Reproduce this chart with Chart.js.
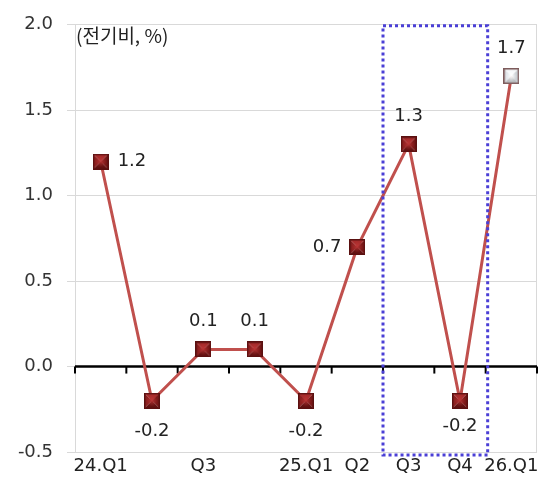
<!DOCTYPE html>
<html>
<head>
<meta charset="utf-8">
<script src="https://cdn.jsdelivr.net/npm/chart.js@4.4.0/dist/chart.umd.min.js"></script>
<style>
  html, body { margin: 0; padding: 0; background: #fff; }
  #wrap { width: 548px; height: 488px; }
</style>
</head>
<body>
<div id="wrap"><canvas id="grafico"></canvas></div>
<script>
// 데이터
const categorias = ['24.Q1', '', 'Q3', '', '25.Q1', 'Q2', 'Q3', 'Q4', '26.Q1'];
const valores = [1.2, -0.2, 0.1, 0.1, -0.2, 0.7, 1.3, -0.2, 1.7];
const unidade = '(전기비, %)';
const destaque = [6, 7]; // 점선 박스 구간 (25.Q3 ~ 25.Q4)

// 라벨 위치 (스타일)
const posLabel = ['right', 'below', 'above', 'above', 'below', 'left', 'above', 'below', 'above'];

const FONTE = '"DejaVu Sans", "Noto Sans CJK KR", sans-serif';

// 사각 마커 (입체 효과)
function marcador(claro) {
  const s = 16;
  const c = document.createElement('canvas');
  c.width = s; c.height = s;
  const g = c.getContext('2d');
  const m = s / 2;
  const faces = claro
    ? ['#f6f8fa', '#dfe3e8', '#c9cdd2', '#b8babd']
    : ['#a82c2c', '#8e2020', '#7a1818', '#651212'];
  const tri = (pts, cor) => {
    g.beginPath();
    g.moveTo(pts[0][0], pts[0][1]);
    g.lineTo(pts[1][0], pts[1][1]);
    g.lineTo(m, m);
    g.closePath();
    g.fillStyle = cor;
    g.fill();
  };
  tri([[0, 0], [s, 0]], faces[0]);
  tri([[0, 0], [0, s]], faces[1]);
  tri([[s, 0], [s, s]], faces[2]);
  tri([[0, s], [s, s]], faces[3]);
  const rg = g.createRadialGradient(m, m, 0, m, m, m * 0.7);
  rg.addColorStop(0, claro ? 'rgba(255,255,255,0.95)' : 'rgba(200,60,60,0.7)');
  rg.addColorStop(1, claro ? 'rgba(255,255,255,0)' : 'rgba(200,60,60,0)');
  g.fillStyle = rg;
  g.fillRect(0, 0, s, s);
  g.strokeStyle = claro ? '#7d5b5b' : '#5a1010';
  g.lineWidth = 1.5;
  g.strokeRect(0.75, 0.75, s - 1.5, s - 1.5);
  return c;
}
const mEscuro = marcador(false);
const mClaro = marcador(true);
const estilos = valores.map((v, i) => i === valores.length - 1 ? mClaro : mEscuro);

// 플러그인: 0선, 눈금, 점선 박스, 단위, 데이터 라벨
const extras = {
  id: 'extras',
  beforeDatasetsDraw(chart) {
    const { ctx, chartArea, scales } = chart;
    const x = scales.x, y = scales.y;
    const y0 = y.getPixelForValue(0);
    const passo = x.getPixelForValue(1) - x.getPixelForValue(0);
    ctx.save();
    // 오른쪽 테두리
    ctx.strokeStyle = '#d9d9d9';
    ctx.lineWidth = 1;
    ctx.beginPath();
    ctx.moveTo(chartArea.right - 0.5, chartArea.top);
    ctx.lineTo(chartArea.right - 0.5, chartArea.bottom);
    ctx.stroke();
    // 0선
    ctx.strokeStyle = '#000';
    ctx.lineWidth = 2.5;
    ctx.beginPath();
    ctx.moveTo(chartArea.left, y0);
    ctx.lineTo(chartArea.right, y0);
    ctx.stroke();
    // 눈금
    ctx.lineWidth = 2;
    for (let i = 0; i <= categorias.length; i++) {
      const px = x.getPixelForValue(i) - passo / 2;
      ctx.beginPath();
      ctx.moveTo(px, y0);
      ctx.lineTo(px, y0 + 7);
      ctx.stroke();
    }
    // 단위
    ctx.fillStyle = '#222';
    ctx.font = '19px "Noto Sans CJK KR", sans-serif';
    ctx.textAlign = 'left';
    ctx.textBaseline = 'middle';
    ctx.fillText(unidade, chartArea.left + 1, chartArea.top + 11);
    ctx.restore();
  },
  afterDatasetsDraw(chart) {
    const { ctx, chartArea, scales } = chart;
    const x = scales.x;
    const passo = x.getPixelForValue(1) - x.getPixelForValue(0);
    ctx.save();
    // 점선 박스
    const x1 = x.getPixelForValue(destaque[0]) - passo / 2;
    const x2 = x.getPixelForValue(destaque[1]) + passo / 2;
    ctx.strokeStyle = '#4a3fd6';
    ctx.lineWidth = 3;
    ctx.setLineDash([3, 3]);
    ctx.strokeRect(x1, chartArea.top + 1, x2 - x1 + 2, chartArea.bottom - chartArea.top + 2);
    ctx.setLineDash([]);
    // 데이터 라벨
    const meta = chart.getDatasetMeta(0);
    ctx.fillStyle = '#222';
    ctx.font = '18px ' + FONTE;
    ctx.textBaseline = 'middle';
    meta.data.forEach((p, i) => {
      const t = valores[i].toFixed(1);
      let tx = p.x, ty = p.y;
      ctx.textAlign = 'center';
      if (posLabel[i] === 'right') { ctx.textAlign = 'left'; tx += 17; }
      else if (posLabel[i] === 'left') { ctx.textAlign = 'right'; tx -= 16; }
      else if (posLabel[i] === 'above') { ty -= 28; }
      else { ty += (i === 7 ? 26 : 31); }
      ctx.fillText(t, tx, ty);
    });
    ctx.restore();
  }
};

new Chart(document.getElementById('grafico'), {
  type: 'line',
  data: {
    labels: categorias,
    datasets: [{
      data: valores,
      borderColor: '#c0504d',
      borderWidth: 3,
      pointStyle: estilos,
      pointRadius: 8,
      pointHoverRadius: 8,
      tension: 0
    }]
  },
  options: {
    responsive: true,
    maintainAspectRatio: false,
    animation: false,
    layout: { padding: { top: 22, right: 8, left: 0, bottom: 0 } },
    plugins: {
      legend: { display: false },
      tooltip: { enabled: false }
    },
    scales: {
      x: {
        offset: true,
        grid: { display: false },
        border: { display: false },
        afterFit(s) { s.height = 36; },
        ticks: {
          color: '#222',
          font: { size: 18, family: FONTE },
          maxRotation: 0,
          autoSkip: false,
          padding: -4
        }
      },
      y: {
        min: -0.5,
        max: 2.0,
        afterFit(s) { s.width = 75; },
        grid: { color: '#d9d9d9', lineWidth: 1, tickLength: 8 },
        border: { display: true, color: '#d9d9d9' },
        ticks: {
          stepSize: 0.5,
          color: '#333',
          padding: 14,
          font: { size: 18, family: FONTE },
          callback: v => v.toFixed(1)
        }
      }
    }
  },
  plugins: [extras]
});
</script>
</body>
</html>
